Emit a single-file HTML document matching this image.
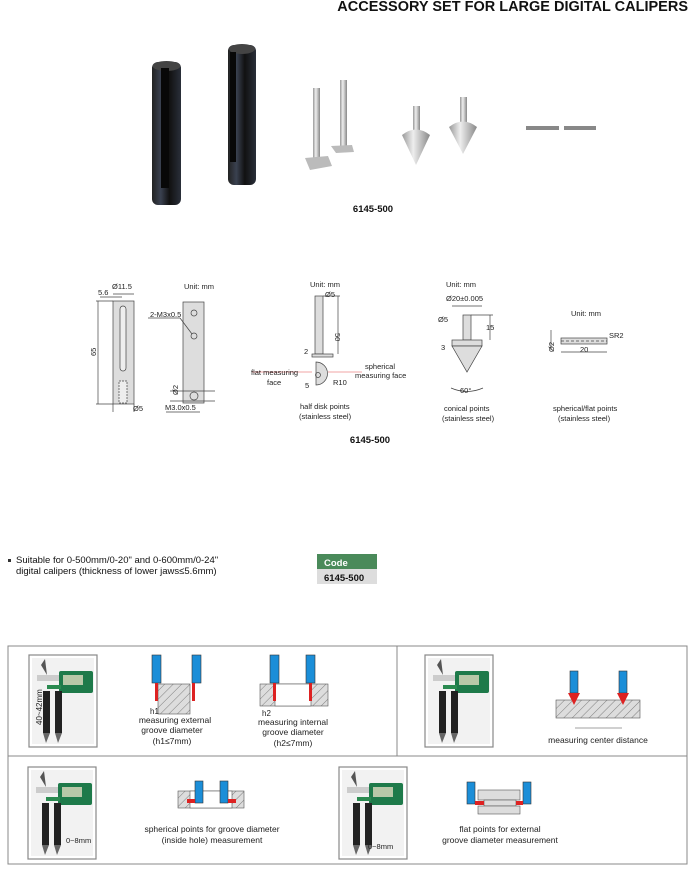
<!DOCTYPE html>
<html><head><meta charset="utf-8"><style>
html,body{margin:0;padding:0;background:#fff}
body{width:695px;height:868px;position:relative;overflow:hidden;font-family:"Liberation Sans",Arial,sans-serif}
svg text{font-family:"Liberation Sans",Arial,sans-serif}
</style></head><body>
<svg width="695" height="868" viewBox="0 0 695 868" xmlns="http://www.w3.org/2000/svg">
<defs>
<pattern id="h" width="6" height="6" patternUnits="userSpaceOnUse" patternTransform="rotate(45)">
<rect width="6" height="6" fill="#ddd"/><line x1="0" y1="0" x2="0" y2="6" stroke="#666" stroke-width="0.8"/></pattern>
<linearGradient id="cyl" x1="0" x2="1"><stop offset="0" stop-color="#222"/><stop offset="0.3" stop-color="#3a4150"/><stop offset="0.6" stop-color="#111"/><stop offset="1" stop-color="#2a2f3a"/></linearGradient>
<linearGradient id="met" x1="0" x2="1"><stop offset="0" stop-color="#999"/><stop offset="0.4" stop-color="#eee"/><stop offset="1" stop-color="#888"/></linearGradient>
<g id="cal">
<rect x="0" y="0" width="68" height="92" fill="#fff" stroke="#888" stroke-width="1.2"/>
<rect x="3" y="3" width="62" height="86" fill="#f2f2f2"/>
<path d="M12 10 L16 4 L18 20 Z" fill="#555"/>
<rect x="8" y="20" width="30" height="6" fill="#ccc"/>
<rect x="30" y="16" width="34" height="22" fill="#1e7a4a" rx="2"/>
<rect x="34" y="20" width="20" height="10" fill="#b8c8a8"/>
<rect x="18" y="30" width="14" height="4" fill="#2a8a50"/>
<rect x="14" y="36" width="7" height="42" fill="#222"/>
<rect x="26" y="36" width="7" height="42" fill="#222"/>
<path d="M14 78 L17 88 L21 78Z M26 78 L29 88 L33 78Z" fill="#666"/>
</g>
</defs>

<text x="688" y="11" font-size="14.5" font-weight="bold" text-anchor="end" fill="#111">ACCESSORY SET FOR LARGE DIGITAL CALIPERS</text>

<!-- photos -->
<rect x="152" y="62" width="29" height="143" rx="6" fill="url(#cyl)"/>
<ellipse cx="166.5" cy="66" rx="14" ry="5" fill="#444"/>
<rect x="161" y="68" width="8" height="120" fill="#080808"/>
<rect x="228" y="45" width="28" height="140" rx="6" fill="url(#cyl)"/>
<ellipse cx="242" cy="49" rx="13" ry="5" fill="#444"/>
<rect x="230" y="52" width="6" height="110" fill="#080808"/>
<rect x="313" y="88" width="7" height="75" fill="url(#met)"/>
<path d="M305 158 L328 156 L332 166 L310 170 Z" fill="#bbb"/>
<rect x="340" y="80" width="7" height="68" fill="url(#met)"/>
<path d="M331 146 L352 145 L354 152 L336 153 Z" fill="#bbb"/>
<rect x="413" y="106" width="7" height="25" fill="url(#met)"/>
<path d="M402 135 Q416 124 430 135 L416 165 Z" fill="url(#met)"/>
<rect x="460" y="97" width="7" height="25" fill="url(#met)"/>
<path d="M449 127 Q463 116 477 127 L463 154 Z" fill="url(#met)"/>
<rect x="526" y="126" width="33" height="4" fill="#888"/>
<rect x="564" y="126" width="32" height="4" fill="#888"/>
<text x="373" y="212" font-size="9.5" font-weight="bold" text-anchor="middle" fill="#111">6145-500</text>

<!-- drawings -->
<g fill="none" stroke="#444" stroke-width="0.7" font-size="7.5">
<rect x="113" y="301" width="21" height="103" fill="#ddd"/>
<rect x="120" y="306" width="6" height="65" rx="3" fill="#eee"/>
<rect x="119" y="381" width="8" height="22" fill="#eee" stroke-dasharray="2 1"/>
<line x1="96" y1="301" x2="113" y2="301"/><line x1="96" y1="404" x2="113" y2="404"/>
<line x1="98" y1="301" x2="98" y2="404"/>
<line x1="113" y1="294" x2="134" y2="294"/><line x1="100" y1="297" x2="122" y2="297"/>
<line x1="113" y1="404" x2="113" y2="412"/><line x1="134" y1="404" x2="134" y2="412"/>
<rect x="183" y="302" width="21" height="101" fill="#ddd"/>
<circle cx="194" cy="313" r="3"/><circle cx="194" cy="336" r="3"/><circle cx="194" cy="396" r="4"/>
<line x1="148" y1="318" x2="180" y2="318"/><line x1="180" y1="318" x2="192" y2="334"/>
<line x1="170" y1="391" x2="215" y2="391"/><line x1="170" y1="401" x2="215" y2="401"/>
<line x1="166" y1="412" x2="200" y2="412"/>
<rect x="315" y="296" width="8" height="58" fill="#ddd"/>
<rect x="312" y="354" width="21" height="3" fill="#ddd"/>
<path d="M316 362 A11 11 0 0 1 316 385 Z" fill="#ddd"/>
<circle cx="318" cy="375" r="2.5"/>
<line x1="323" y1="296" x2="340" y2="296"/><line x1="338" y1="296" x2="338" y2="354"/>
<line x1="252" y1="372" x2="312" y2="372" stroke="#e88"/><line x1="328" y1="372" x2="362" y2="372" stroke="#e88"/>
<rect x="463" y="315" width="8" height="25" fill="#ddd"/>
<rect x="452" y="340" width="30" height="6" fill="#ddd"/>
<path d="M452 346 L482 346 L467 372 Z" fill="#ddd"/>
<line x1="452" y1="306" x2="482" y2="306"/><line x1="471" y1="315" x2="493" y2="315"/><line x1="490" y1="315" x2="490" y2="340"/>
<path d="M451 388 Q467 395 483 388"/>
<rect x="561" y="338" width="46" height="6" fill="#ddd"/>
<line x1="561" y1="341" x2="607" y2="341" stroke-dasharray="3 2"/>
<line x1="561" y1="352" x2="607" y2="352"/><line x1="551" y1="330" x2="551" y2="350"/>
</g>
<g font-size="7.5" fill="#222">
<text x="112" y="289">Ø11.5</text><text x="98" y="295">5.6</text>
<text x="96" y="356" transform="rotate(-90 96 356)">65</text>
<text x="133" y="411">Ø5</text>
<text x="184" y="289">Unit: mm</text>
<text x="150" y="317">2-M3x0.5</text>
<text x="170" y="387" transform="rotate(-90 178 387)">Ø2</text>
<text x="165" y="410">M3.0x0.5</text>
<text x="310" y="287">Unit: mm</text><text x="325" y="297">Ø5</text>
<text x="335" y="333" transform="rotate(90 335 333)">50</text>
<text x="304" y="354">2</text>
<text x="251" y="375">flat measuring</text><text x="267" y="385">face</text>
<text x="365" y="369">spherical</text><text x="355" y="378">measuring face</text>
<text x="305" y="388">5</text><text x="333" y="385">R10</text>
<text x="300" y="409">half disk points</text><text x="299" y="419">(stainless steel)</text>
<text x="446" y="287">Unit: mm</text><text x="446" y="301">Ø20±0.005</text>
<text x="438" y="322">Ø5</text><text x="486" y="330">15</text><text x="441" y="350">3</text>
<text x="460" y="393">60°</text>
<text x="444" y="411">conical points</text><text x="442" y="421">(stainless steel)</text>
<text x="571" y="316">Unit: mm</text><text x="609" y="338">SR2</text>
<text x="580" y="352">20</text><text x="550" y="356" transform="rotate(-90 550 352)">Ø2</text>
<text x="553" y="411">spherical/flat points</text><text x="558" y="421">(stainless steel)</text>
</g>
<text x="370" y="443" font-size="9.5" font-weight="bold" text-anchor="middle" fill="#111">6145-500</text>

<rect x="8" y="559" width="3" height="3" fill="#333"/>
<text x="16" y="563" font-size="9.5" fill="#111">Suitable for 0-500mm/0-20" and 0-600mm/0-24"</text>
<text x="16" y="574" font-size="9.5" fill="#111">digital calipers (thickness of lower jaws≤5.6mm)</text>
<rect x="317" y="554" width="60" height="15" fill="#4a8a5a"/>
<text x="324" y="566" font-size="9.5" font-weight="bold" fill="#fff">Code</text>
<rect x="317" y="569" width="60" height="15" fill="#ddd"/>
<text x="324" y="581" font-size="9.5" font-weight="bold" fill="#111">6145-500</text>

<!-- bottom panels -->
<rect x="8" y="646" width="679" height="218" fill="none" stroke="#888" stroke-width="1"/>
<line x1="8" y1="756" x2="687" y2="756" stroke="#888"/>
<line x1="397" y1="646" x2="397" y2="756" stroke="#888"/>
<use href="#cal" x="29" y="655"/>
<use href="#cal" x="425" y="655"/>
<use href="#cal" x="28" y="767"/>
<use href="#cal" x="339" y="767"/>
<text x="42" y="725" font-size="8" transform="rotate(-90 42 725)" fill="#222">40~42mm</text>
<text x="66" y="843" font-size="7.5" fill="#222">0~8mm</text>
<text x="368" y="849" font-size="7.5" fill="#222">0~8mm</text>
<!-- external groove -->
<rect x="158" y="684" width="32" height="30" fill="url(#h)" stroke="#555" stroke-width="0.6"/>
<rect x="152" y="655" width="9" height="28" fill="#1b8ed8" stroke="#333" stroke-width="0.6"/>
<rect x="192" y="655" width="9" height="28" fill="#1b8ed8" stroke="#333" stroke-width="0.6"/>
<rect x="155" y="683" width="3" height="18" fill="#d22"/><rect x="192" y="683" width="3" height="18" fill="#d22"/>
<text x="150" y="714" font-size="8" fill="#222">h1</text>
<!-- internal groove -->
<rect x="260" y="684" width="68" height="22" fill="url(#h)" stroke="#555" stroke-width="0.6"/>
<rect x="275" y="684" width="36" height="22" fill="#fff" stroke="#555" stroke-width="0.6"/>
<rect x="270" y="655" width="9" height="28" fill="#1b8ed8" stroke="#333" stroke-width="0.6"/>
<rect x="306" y="655" width="9" height="28" fill="#1b8ed8" stroke="#333" stroke-width="0.6"/>
<rect x="273" y="683" width="3" height="18" fill="#d22"/><rect x="309" y="683" width="3" height="18" fill="#d22"/>
<text x="262" y="716" font-size="8" fill="#222">h2</text>
<g font-size="8.5" fill="#222" text-anchor="middle">
<text x="175" y="723">measuring external</text><text x="172" y="733">groove diameter</text><text x="172" y="744">(h1≤7mm)</text>
<text x="293" y="725">measuring internal</text><text x="293" y="735">groove diameter</text><text x="293" y="746">(h2≤7mm)</text>
<text x="598" y="743">measuring center distance</text>
<text x="212" y="832">spherical points for groove diameter</text><text x="212" y="843">(inside hole) measurement</text>
<text x="500" y="832">flat points for external</text><text x="500" y="843">groove diameter measurement</text>
</g>
<!-- center distance -->
<rect x="556" y="700" width="84" height="18" fill="url(#h)" stroke="#555" stroke-width="0.6"/>
<rect x="570" y="671" width="8" height="22" fill="#1b8ed8" stroke="#333" stroke-width="0.6"/>
<rect x="619" y="671" width="8" height="22" fill="#1b8ed8" stroke="#333" stroke-width="0.6"/>
<path d="M568 693 L580 693 L574 705Z M617 693 L629 693 L623 705Z" fill="#d22"/>
<line x1="575" y1="728" x2="622" y2="728" stroke="#444" stroke-width="0.6"/>
<!-- spherical inside hole -->
<rect x="178" y="791" width="66" height="17" fill="url(#h)" stroke="#555" stroke-width="0.6"/>
<rect x="190" y="791" width="42" height="17" fill="#fff" stroke="#555" stroke-width="0.6"/>
<rect x="195" y="781" width="8" height="22" fill="#1b8ed8" stroke="#333" stroke-width="0.6"/>
<rect x="220" y="781" width="8" height="22" fill="#1b8ed8" stroke="#333" stroke-width="0.6"/>
<rect x="187" y="799" width="8" height="4" fill="#d22"/><rect x="228" y="799" width="8" height="4" fill="#d22"/>
<!-- flat external -->
<rect x="478" y="790" width="42" height="10" fill="#ddd" stroke="#555" stroke-width="0.6"/>
<rect x="484" y="800" width="32" height="6" fill="#ddd" stroke="#555" stroke-width="0.6"/>
<rect x="478" y="806" width="42" height="8" fill="#ddd" stroke="#555" stroke-width="0.6"/>
<rect x="467" y="782" width="8" height="22" fill="#1b8ed8" stroke="#333" stroke-width="0.6"/>
<rect x="523" y="782" width="8" height="22" fill="#1b8ed8" stroke="#333" stroke-width="0.6"/>
<rect x="475" y="801" width="9" height="4" fill="#d22"/><rect x="516" y="801" width="7" height="4" fill="#d22"/>
</svg>
</body></html>
